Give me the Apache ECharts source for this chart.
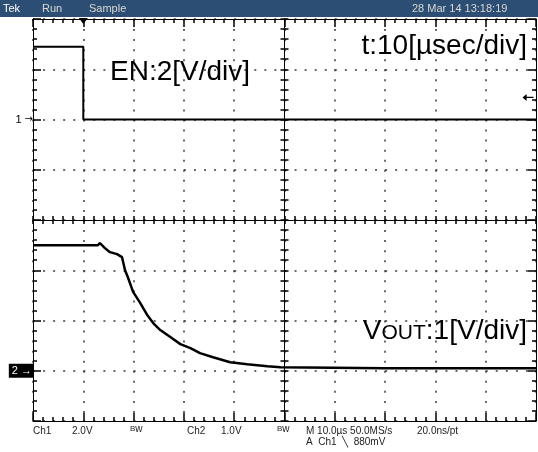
<!DOCTYPE html>
<html>
<head>
<meta charset="utf-8">
<title>EN / VOUT</title>
<script src="https://cdn.jsdelivr.net/npm/echarts@6/dist/echarts.min.js"></script>
<style>
  html, body { margin: 0; padding: 0; background: #fff; }
  #scope { width: 538px; height: 452px; }
</style>
</head>
<body>
<div id="scope"></div>
<script>
// CH1 = EN, 2 V/div ; time in µs, trigger at 0
var enTime = [-10, 0, 0, 90];
var enVolt = [2.9, 2.9, 0, 0];

// CH2 = VOUT, 1 V/div
var voutTime = [-10, 2.9, 3.3, 4.3, 5.3, 6.7, 7.7, 8.3, 8.9, 9.9, 11.3, 12.7, 13.9, 15.3, 17.3, 19.3, 21.3, 23.2, 25.8, 29.2, 32.6, 36.6, 39.2, 60, 90];
var voutVolt = [2.5, 2.5, 2.54, 2.44, 2.36, 2.32, 2.26, 2.0, 1.85, 1.57, 1.35, 1.11, 0.95, 0.81, 0.67, 0.53, 0.45, 0.35, 0.27, 0.17, 0.13, 0.09, 0.07, 0.05, 0.05];

var trigTime = 0;      // µs
var trigLevel = 0.88;  // V on ch1

var ink = '#000';
var dotColor = '#3a3a3a';
var tickW = 1.5;
var font = '"Liberation Sans", Arial, sans-serif';

function pairs(xs, ys) {
    return xs.map(function (x, i) { return [x, ys[i]]; });
}

// frame axes, counted in divisions (10 x 8)
function divAxis(min, max, extra) {
    var a = {
        type: 'value', min: min, max: max, interval: 1,
        axisLine: { show: true, onZero: false, lineStyle: { color: ink, width: 1 } },
        axisTick: { show: true, inside: true, length: 8, lineStyle: { color: ink, width: tickW } },
        minorTick: { show: true, splitNumber: 5, length: 4, lineStyle: { color: ink, width: tickW } },
        axisLabel: { show: false },
        splitLine: { show: false }
    };
    for (var k in extra) a[k] = extra[k];
    return a;
}
// centre cross, ticks on both sides
function centerAxis(min, max, pos, inside, zeroIdx) {
    return divAxis(min, max, {
        position: pos,
        axisLine: { show: true, onZero: true, onZeroAxisIndex: zeroIdx, lineStyle: { color: ink, width: 1 } },
        axisTick: { show: true, inside: inside, length: 4, lineStyle: { color: ink, width: tickW } },
        minorTick: { show: true, splitNumber: 5, length: 4, lineStyle: { color: ink, width: tickW } }
    });
}

function txt(text, x, y, size, color, extra) {
    var st = { text: text, font: size + 'px ' + font, fill: color, textVerticalAlign: 'middle' };
    for (var k in extra) st[k] = extra[k];
    return { type: 'text', x: x, y: y, z: 50, silent: true, style: st };
}

var chart = echarts.init(document.getElementById('scope'));

var option = {
    animation: false,
    grid: { left: 33, top: 19, width: 503, height: 402, containLabel: false, outerBoundsMode: 'none' },
    xAxis: [
        { type: 'value', min: -10, max: 90, show: false, axisLine: { onZero: false } },
        divAxis(-5, 5, { position: 'bottom',
            splitLine: { show: true, lineStyle: { color: dotColor, width: 1.5, type: [2, 8.05] } } }),
        divAxis(-5, 5, { position: 'top' }),
        centerAxis(-5, 5, 'bottom', true, 2),
        centerAxis(-5, 5, 'bottom', false, 2)
    ],
    yAxis: [
        {   // ch1 volts, ground 2 div above centre
            type: 'value', min: -12, max: 4, interval: 2, position: 'left',
            axisLine: { show: false, onZero: false }, axisTick: { show: false }, splitLine: { show: false },
            axisLabel: {
                margin: 0,
                formatter: function (v) { return v === 0 ? '{n|1}{a|→}' : ''; },
                rich: {
                    n: { fontSize: 11, fontFamily: font, color: ink, padding: [0, 3, 0, 0] },
                    a: { fontSize: 10, fontFamily: 'DejaVu Sans', color: ink }
                }
            }
        },
        {   // ch2 volts, ground 3 div below centre
            type: 'value', min: -1, max: 7, interval: 1, position: 'left',
            axisLine: { show: false, onZero: false }, axisTick: { show: false }, splitLine: { show: false },
            axisLabel: {
                margin: 0,
                formatter: function (v) { return v === 0 ? '{b|2 →}' : ''; },
                rich: {
                    b: { fontSize: 11, fontFamily: font, color: '#fff', backgroundColor: '#000',
                         padding: [1, 1, 1, 3], height: 12 }
                }
            }
        },
        divAxis(-4, 4, { position: 'left',
            splitLine: { show: true, lineStyle: { color: dotColor, width: 1.5, type: [2, 8.06] } } }),
        divAxis(-4, 4, { position: 'right' }),
        centerAxis(-4, 4, 'left', true, 1),
        centerAxis(-4, 4, 'left', false, 1)
    ],
    series: [
        {
            name: 'EN', type: 'line', xAxisIndex: 0, yAxisIndex: 0,
            data: pairs(enTime, enVolt),
            showSymbol: false, z: 5,
            lineStyle: { color: ink, width: 2 },
            markPoint: {
                silent: true, animation: false,
                label: { show: false },
                data: [
                    // trigger position
                    { coord: [trigTime, 4], symbol: 'triangle', symbolSize: [9, 6], symbolRotate: 180,
                      symbolOffset: [0, 2], itemStyle: { color: ink } },
                    // trigger level
                    { coord: [90, trigLevel], symbol: 'path://M0,5L6,0L6,4L16,4L16,6L6,6L6,10Z',
                      symbolSize: [11, 7], symbolOffset: [-8, 0], itemStyle: { color: ink } }
                ]
            }
        },
        {
            name: 'VOUT', type: 'line', xAxisIndex: 0, yAxisIndex: 1,
            data: pairs(voutTime, voutVolt),
            showSymbol: false, z: 5,
            lineStyle: { color: ink, width: 2.5 }
        }
    ],
    graphic: [
        { type: 'rect', shape: { x: 0, y: 0, width: 538, height: 17 }, style: { fill: '#2c4e74' }, silent: true },
        txt('Tek', 3, 9, 11, '#ffffff'),
        txt('Run', 42, 9, 11, '#d8d8d0'),
        txt('Sample', 89, 9, 11, '#d8d8d0'),
        txt('28 Mar 14 13:18:19', 412, 9, 11, '#d8d8d0'),

        txt('EN:2[V/div]', 110, 72, 28, ink),
        txt('t:10[µsec/div]', 527, 46, 28, ink, { textAlign: 'right' }),
        txt('{b|V}{s|OUT}{b|:1[V/div]}', 527, 331, 28, ink, {
            textAlign: 'right',
            rich: {
                b: { fontSize: 28, fontFamily: font, color: ink, verticalAlign: 'bottom' },
                s: { fontSize: 21, fontFamily: font, color: ink, verticalAlign: 'bottom', padding: [0, 0, 1, 0] }
            }
        }),

        txt('Ch1', 33, 431, 10, '#222'),
        txt('2.0V', 72, 431, 10, '#222'),
        txt('{b|B}{w|w}', 130, 429, 10, '#222', { rich: { b: { fontSize: 8, fontFamily: font }, w: { fontSize: 10, fontFamily: font } } }),
        txt('Ch2', 187, 431, 10, '#222'),
        txt('1.0V', 221, 431, 10, '#222'),
        txt('{b|B}{w|w}', 277, 429, 10, '#222', { rich: { b: { fontSize: 8, fontFamily: font }, w: { fontSize: 10, fontFamily: font } } }),
        txt('M 10.0µs 50.0MS/s', 306, 431, 10, '#222'),
        txt('20.0ns/pt', 417, 431, 10, '#222'),
        txt('A  Ch1  \u2572  880mV', 306, 442, 10, '#222')
    ]
};

chart.setOption(option);
</script>
</body>
</html>
